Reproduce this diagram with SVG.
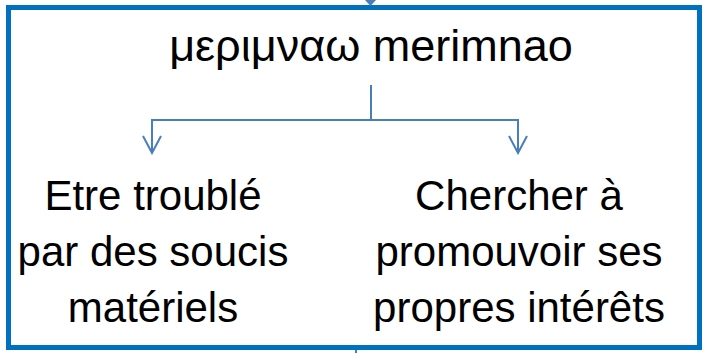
<svg xmlns="http://www.w3.org/2000/svg" width="706" height="353" viewBox="0 0 706 353">
<defs>
<style>
.frame{fill:#fff;stroke:#0070C0;stroke-width:5}
.conn{fill:none;stroke:#4A7EBB;stroke-width:2}
.t{font-family:"Liberation Sans",Arial,sans-serif;fill:#000;text-anchor:middle}
</style>
<marker id="v" viewBox="0 0 20 20" refX="18" refY="10" markerWidth="20" markerHeight="20" markerUnits="userSpaceOnUse" orient="auto">
<path d="M1,1 L18,10 L1,19" fill="none" stroke="#4A7EBB" stroke-width="2"/>
</marker>
</defs>
<rect width="706" height="353" fill="#fff"/>
<g id="frame">
<rect class="frame" x="8.5" y="7.5" width="691" height="340"/>
</g>
<g id="connectors">
<path class="conn" d="M371,85 V120"/>
<path class="conn" d="M371,120 H152 V153" marker-end="url(#v)"/>
<path class="conn" d="M371,120 H518 V153" marker-end="url(#v)"/>
<path d="M365,0 L370.5,6 L376,0 Z" fill="#4A7EBB"/>
<path d="M356,350 V353" stroke="#4A7EBB" stroke-width="2"/>
</g>
<g id="top">
<text class="t" x="371" y="61" font-size="45">μεριμναω merimnao</text>
</g>
<g id="left">
<text class="t" x="153" y="210" font-size="42">Etre troublé</text>
<text class="t" x="153" y="266" font-size="42">par des soucis</text>
<text class="t" x="153" y="322" font-size="42">matériels</text>
</g>
<g id="right">
<text class="t" x="519" y="210" font-size="42">Chercher à</text>
<text class="t" x="519" y="266" font-size="42">promouvoir ses</text>
<text class="t" x="519" y="322" font-size="42">propres intérêts</text>
</g>
</svg>
